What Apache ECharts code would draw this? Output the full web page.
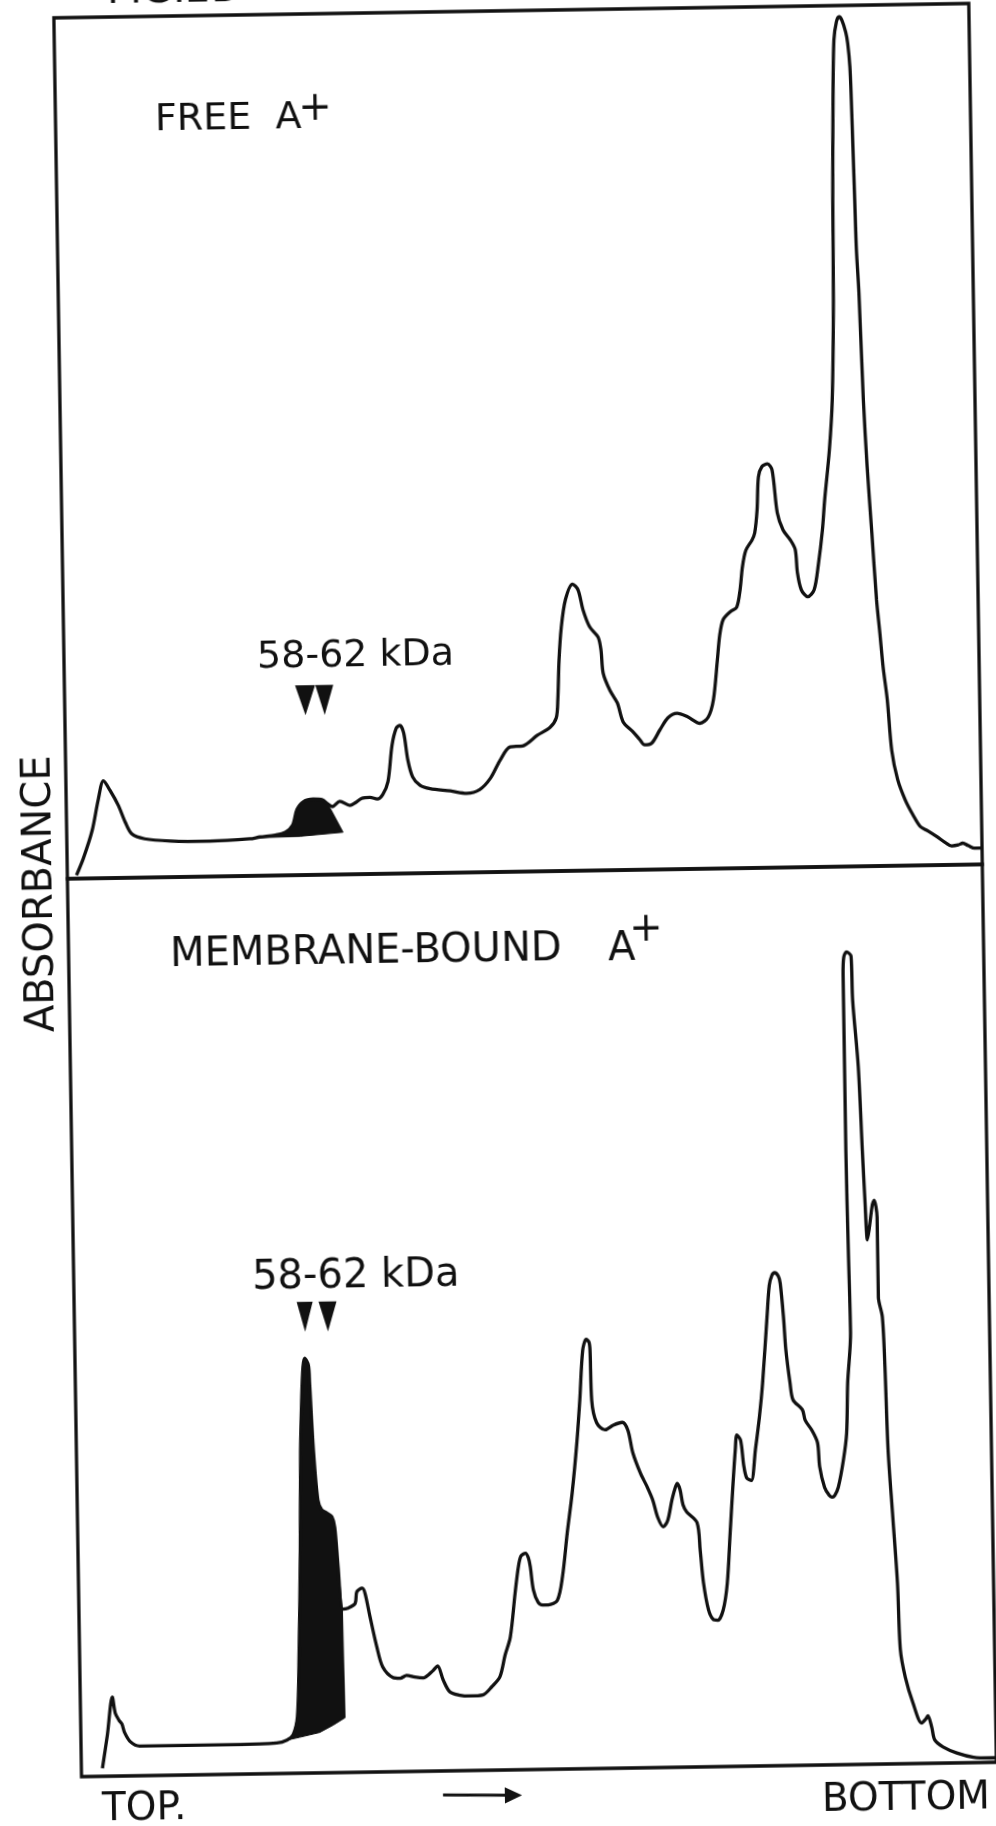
<!DOCTYPE html>
<html>
<head>
<meta charset="utf-8">
<title>Gradient profiles of free and membrane-bound A+ RNA</title>
<script src="https://cdn.jsdelivr.net/npm/echarts@6/dist/echarts.min.js"></script>
<style>
  html, body { margin: 0; padding: 0; width: 996px; height: 1826px; overflow: hidden; background: #fff; }
  /* the scanned figure sits slightly tilted on the page */
  #chart { position: absolute; left: -30px; top: -30px; width: 1056px; height: 1886px;
           transform: rotate(-0.9deg); transform-origin: 50% 50%; }
</style>
</head>
<body>
<div id="chart"></div>
<script>
// Gradient position: 0 = top of the gradient, 100 = bottom.
// Absorbance: relative units, 100 = full height of the panel.
const freeProfile = [
  [1.0, 0.4], [1.8, 2.4], [2.8, 5.6], [3.5, 9.1], [4.1, 11.3], [4.8, 10.2], [5.7, 8.4], [6.4, 6.5],
  [7.1, 5.1], [8.5, 4.5], [11.3, 4.2], [15.6, 4.1], [20.0, 4.3], [21.1, 4.5], [22.8, 4.7], [23.9, 5.0],
  [24.7, 5.8], [25.2, 7.6], [25.9, 8.5], [27.0, 8.8], [28.0, 8.7], [28.6, 8.2], [29.1, 7.9], [29.9, 8.5],
  [31.0, 8.0], [31.6, 8.3], [32.3, 8.8], [33.2, 8.9], [34.0, 8.7], [34.6, 9.2], [35.2, 10.7], [35.7, 14.9],
  [36.2, 16.9], [36.6, 17.2], [37.0, 16.3], [37.4, 13.2], [37.9, 11.2], [38.7, 10.2], [39.8, 9.8], [42.0, 9.5],
  [43.8, 9.2], [45.2, 9.6], [46.4, 10.9], [47.5, 13.0], [48.6, 14.5], [50.0, 14.6], [51.6, 15.8], [53.0, 16.7],
  [53.7, 17.8], [53.9, 19.9], [54.1, 24.5], [54.4, 28.3], [54.9, 31.5], [55.7, 33.3], [56.3, 32.6], [56.8, 30.3],
  [57.5, 28.3], [58.4, 27.1], [58.7, 25.6], [58.9, 22.9], [59.6, 20.9], [60.4, 19.4], [61.0, 17.2], [62.0, 16.1],
  [62.8, 15.1], [63.3, 14.5], [64.1, 14.7], [65.0, 16.2], [65.9, 17.6], [66.9, 18.1], [68.0, 17.7], [69.4, 16.9],
  [70.3, 17.6], [70.9, 19.6], [71.4, 24.2], [71.7, 27.1], [72.1, 28.9], [72.9, 29.8], [73.6, 30.3], [74.0, 32.3],
  [74.3, 35.0], [74.7, 36.9], [75.4, 38.1], [75.7, 38.9], [76.0, 41.6], [76.2, 45.4], [76.6, 46.6], [77.2, 46.9],
  [77.7, 46.2], [78.2, 41.2], [78.8, 39.2], [79.6, 38.0], [80.1, 36.9], [80.3, 34.2], [80.7, 32.2], [81.4, 31.4],
  [82.1, 32.2], [82.6, 35.1], [83.1, 39.1], [83.4, 42.6], [84.0, 48.4], [84.4, 54.2], [84.7, 65.8], [84.8, 77.4],
  [85.0, 89.0], [85.2, 96.0], [85.5, 98.1], [85.8, 98.7], [86.1, 98.3], [86.5, 96.9], [86.7, 95.6], [86.9, 92.9],
  [87.0, 89.0], [87.1, 83.2], [87.2, 77.4], [87.3, 71.6], [87.5, 66.6], [87.8, 54.2], [88.1, 46.4], [88.5, 38.7],
  [88.9, 30.9], [89.2, 27.1], [89.5, 23.1], [89.9, 19.3], [90.3, 13.4], [90.9, 10.0], [91.7, 7.6], [92.5, 5.9],
  [93.3, 4.5], [94.1, 4.0], [95.1, 3.3], [96.0, 2.6], [96.7, 2.2], [97.4, 2.3], [97.9, 2.5], [98.5, 2.2],
  [99.2, 1.9], [100.0, 1.9]
];

const membraneProfile = [
  [2.3, 0.9], [2.9, 4.6], [3.5, 8.8], [3.8, 7.0], [4.2, 6.2], [4.5, 5.8], [4.8, 4.8], [5.4, 3.8],
  [6.4, 3.3], [9.4, 3.3], [16.6, 3.3], [21.4, 3.4], [22.5, 3.7], [23.2, 4.3], [23.7, 6.3], [24.0, 13.7],
  [24.3, 24.8], [24.5, 36.0], [24.7, 41.5], [24.9, 45.2], [25.1, 46.2], [25.5, 45.4], [25.6, 43.4], [25.9, 36.0],
  [26.3, 30.4], [26.7, 29.3], [27.3, 28.9], [27.8, 28.5], [28.1, 27.3], [28.4, 22.9], [28.8, 18.2], [29.4, 18.3],
  [30.2, 18.8], [30.4, 20.1], [31.0, 20.5], [31.3, 19.9], [31.8, 17.3], [32.5, 13.9], [33.1, 11.7], [34.2, 10.5],
  [35.0, 10.4], [35.7, 10.7], [36.6, 10.5], [37.5, 10.4], [38.6, 11.2], [39.1, 11.7], [39.7, 10.1], [40.4, 8.8],
  [41.5, 8.4], [42.6, 8.3], [44.0, 8.4], [45.0, 9.3], [45.9, 10.4], [46.5, 12.8], [47.1, 14.8], [47.7, 19.7],
  [48.1, 22.6], [48.4, 23.8], [48.9, 24.1], [49.2, 23.6], [49.4, 22.6], [49.7, 20.0], [50.2, 18.6], [50.7, 18.3],
  [51.3, 18.3], [52.3, 18.8], [52.9, 21.4], [53.5, 26.3], [54.1, 30.7], [54.7, 36.3], [55.1, 41.1], [55.5, 46.6],
  [55.9, 47.8], [56.2, 47.5], [56.3, 46.6], [56.4, 41.0], [56.9, 38.5], [57.8, 37.7], [58.7, 38.2], [59.7, 38.5],
  [60.3, 37.6], [60.8, 35.1], [61.6, 32.8], [62.3, 31.3], [62.9, 29.8], [63.4, 27.9], [64.0, 26.8], [64.5, 27.5],
  [65.0, 29.8], [65.4, 31.2], [65.6, 31.6], [65.9, 30.9], [66.2, 29.2], [66.6, 28.4], [67.7, 27.2], [68.0, 24.1],
  [68.3, 20.5], [68.8, 17.5], [69.3, 16.4], [69.8, 16.3], [70.4, 17.4], [70.9, 20.4], [71.3, 26.0], [71.7, 31.5],
  [72.0, 35.2], [72.2, 36.9], [72.6, 36.3], [72.9, 33.5], [73.2, 32.1], [73.7, 31.8], [74.2, 35.2], [74.7, 38.9],
  [75.1, 42.6], [75.7, 50.0], [76.0, 53.5], [76.3, 54.6], [76.6, 54.9], [77.0, 54.5], [77.2, 53.7], [77.5, 49.9],
  [77.7, 46.3], [78.1, 42.6], [78.4, 40.7], [79.4, 39.6], [79.7, 38.4], [80.4, 37.3], [81.0, 35.9], [81.2, 33.2],
  [81.7, 30.9], [82.2, 30.0], [82.5, 29.8], [82.8, 30.0], [83.2, 30.9], [83.8, 33.9], [84.2, 36.9], [84.4, 42.5],
  [84.8, 48.1], [84.7, 57.3], [84.6, 68.4], [84.6, 79.6], [84.6, 87.9], [84.7, 89.9], [85.0, 90.5], [85.5, 90.0],
  [85.6, 85.1], [86.1, 77.7], [86.4, 68.4], [86.6, 62.8], [86.8, 58.4], [87.0, 59.5], [87.4, 62.3], [87.6, 62.8],
  [87.9, 60.9], [87.9, 52.0], [88.3, 49.8], [88.5, 44.2], [88.7, 35.0], [89.1, 27.5], [89.5, 20.1], [89.7, 12.7],
  [90.2, 9.6], [91.0, 6.7], [91.9, 4.5], [92.4, 5.0], [92.6, 5.3], [93.0, 4.0], [93.3, 2.6], [94.2, 1.8],
  [95.7, 1.1], [97.5, 0.6], [99.3, 0.5], [100.0, 0.5]
];

// Shaded 58-62 kDa zone: the trace over this span is the upper edge,
// the hand-drawn baseline (right to left) closes it from below.
const freeBandSpan = [21.1, 28.6];
const freeBandBase = [[30.2, 4.9], [25.5, 4.5], [20.8, 4.4]];
const membraneBandSpan = [22.5, 28.8];
const membraneBandBase = [[28.9, 6.1], [27.6, 5.3], [26.1, 4.5], [23.9, 4.0], [22.5, 3.7]];

// Paired arrowheads pointing at the 58-62 kDa products
const freeArrowPos = [26.3, 28.4];
const freeArrowLevel = 20.3;
const membraneArrowPos = [25.2, 27.7];
const membraneArrowLevel = 50.8;

const sizeLabel = '58-62 kDa';

// ---- layout (canvas reaches OFF px beyond every page edge) ----
const OFF = 30;
const PANEL_LEFT = 68 + OFF, PANEL_W = 915;
const UPPER_TOP = 11 + OFF, UPPER_H = 861;
const LOWER_TOP = 872 + OFF, LOWER_H = 898;
const INK = '#111';
const FONT = '"DejaVu Sans", "Liberation Sans", sans-serif';
const TEXT_DROP = 7; // lowers text so the capital letters centre on the given point

function bandPolygon(profile, span, base) {
  return profile.filter(p => p[0] >= span[0] && p[0] <= span[1]).concat(base);
}

function bandSeries(poly, idx) {
  return {
    type: 'custom',
    xAxisIndex: idx, yAxisIndex: idx,
    data: poly,
    silent: true,
    z: 3,
    renderItem: function (params, api) {
      if (params.dataIndex !== 0) return null;
      return {
        type: 'polygon',
        shape: { points: poly.map(p => api.coord(p)) },
        style: { fill: INK, stroke: INK, lineWidth: 1 }
      };
    }
  };
}

function traceSeries(name, profile, idx, arrowPos, arrowLevel, arrowSizes) {
  return {
    name: name,
    type: 'line',
    xAxisIndex: idx, yAxisIndex: idx,
    data: profile,
    smooth: 0.3,
    symbol: 'none',
    z: 4,
    lineStyle: { color: INK, width: 3.3 },
    markPoint: {
      silent: true,
      symbol: 'triangle',
      symbolRotate: 180,
      itemStyle: { color: INK },
      label: { show: false },
      data: arrowPos.map((x, i) => ({ coord: [x, arrowLevel], symbolSize: arrowSizes[i] }))
    }
  };
}

function txt(text, x, y, size, align) {
  return {
    type: 'text', x: x, y: y + TEXT_DROP, silent: true,
    style: {
      text: text, font: size + 'px ' + FONT, fill: INK,
      textAlign: align || 'left', align: align || 'left',
      textVerticalAlign: 'middle', verticalAlign: 'middle'
    }
  };
}

const chart = echarts.init(document.getElementById('chart'), null, { renderer: 'canvas' });

chart.setOption({
  animation: false,
  backgroundColor: '#fff',
  grid: [
    { left: PANEL_LEFT, top: UPPER_TOP, width: PANEL_W, height: UPPER_H, show: true, borderColor: INK, borderWidth: 3.3 },
    { left: PANEL_LEFT, top: LOWER_TOP, width: PANEL_W, height: LOWER_H, show: true, borderColor: INK, borderWidth: 3.3 }
  ],
  xAxis: [0, 1].map(i => ({ type: 'value', gridIndex: i, min: 0, max: 100, show: false })),
  yAxis: [0, 1].map(i => ({ type: 'value', gridIndex: i, min: 0, max: 100, show: false })),
  series: [
    bandSeries(bandPolygon(freeProfile, freeBandSpan, freeBandBase), 0),
    traceSeries('Free A+', freeProfile, 0, freeArrowPos, freeArrowLevel, [[20, 30], [18, 30]]),
    bandSeries(bandPolygon(membraneProfile, membraneBandSpan, membraneBandBase), 1),
    traceSeries('Membrane-bound A+', membraneProfile, 1, membraneArrowPos, membraneArrowLevel, [[16, 30], [18, 30]])
  ],
  graphic: [
    txt('FIG.2B', 151.5, 9.5, 40),
    txt('FREE  A', 197.5, 138.6, 38),
    txt('+', 357.7, 130.1, 40, 'center'),
    txt(sizeLabel, 291.1, 677.2, 38),
    txt('MEMBRANE-BOUND', 199.4, 973.9, 40),
    txt('A', 637.5, 974.2, 40),
    txt('+', 675.8, 955.8, 40, 'center'),
    txt(sizeLabel, 276.4, 1297.6, 40),
    {
      type: 'text', x: 64.3 + TEXT_DROP, y: 916.7, rotation: Math.PI / 2, silent: true,
      style: {
        text: 'ABSORBANCE', font: '40px ' + FONT, fill: INK,
        textAlign: 'center', align: 'center', textVerticalAlign: 'middle', verticalAlign: 'middle'
      }
    },
    txt('TOP.', 118, 1826.8, 39),
    txt('BOTTOM', 1006, 1829.1, 39, 'right'),
    {
      type: 'line', silent: true,
      shape: { x1: 459.2, y1: 1824.1, x2: 524, y2: 1825.2 },
      style: { stroke: INK, lineWidth: 3 }
    },
    {
      type: 'polygon', silent: true,
      shape: { points: [[538.2, 1825.4], [521, 1817.2], [521, 1833.4]] },
      style: { fill: INK }
    }
  ]
});
</script>
</body>
</html>
